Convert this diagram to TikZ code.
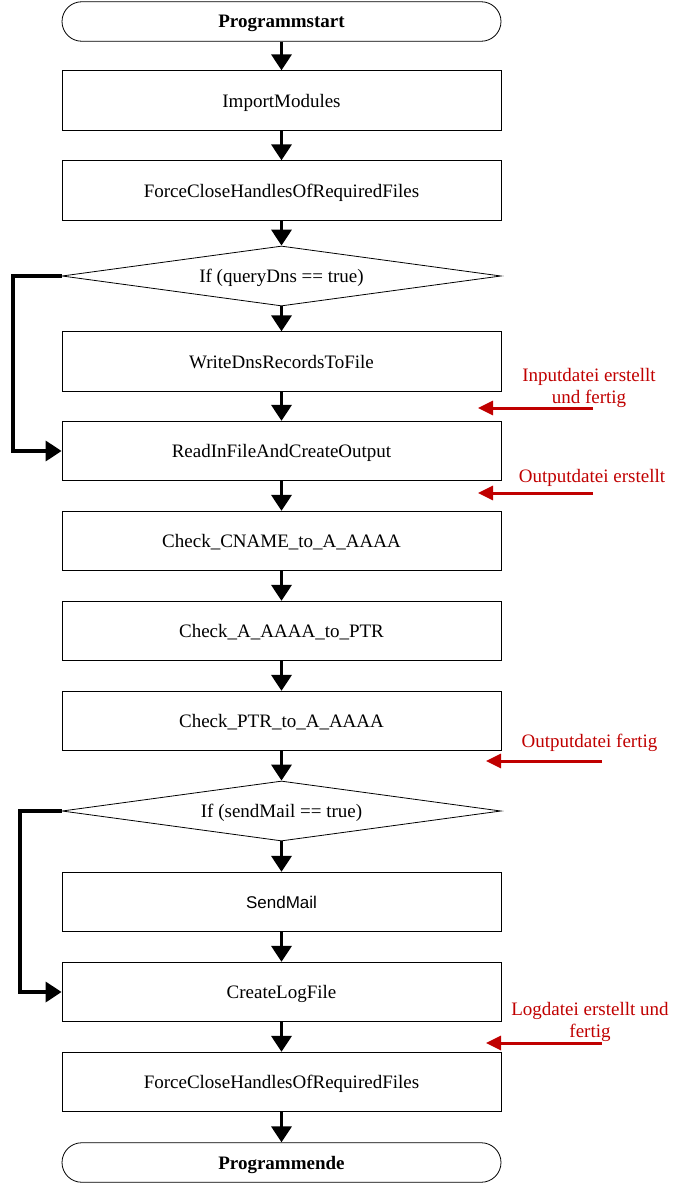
\documentclass[tikz,border=0pt]{standalone}
\usepackage{fontspec}
\setmainfont{Liberation Serif}
\newfontfamily\mailfont{Liberation Sans}
\usepackage{tikz}
\usetikzlibrary{shapes.geometric,arrows.meta}
\definecolor{notered}{RGB}{192,0,0}

\begin{document}
\begin{tikzpicture}[x=1pt,y=-1pt,
    every node/.style={font=\fontsize{19}{22}\selectfont},
    box/.style={draw,line width=0.8pt,minimum width=439pt,minimum height=59.5pt,inner sep=0pt,text depth=0pt},
    term/.style={box,minimum height=39.5pt,rounded corners=19.75pt,font=\fontsize{19}{22}\selectfont\bfseries},
    cond/.style={draw,line width=0.8pt,diamond,aspect=7.3,inner sep=0pt,text depth=0pt,minimum width=439pt,minimum height=60pt},
    flow/.style={line width=3.5pt,-{Triangle[width=20pt,length=16pt]}},
    note/.style={text=notered,align=center},
    notearrow/.style={notered,line width=3pt,-{Triangle[width=14pt,length=15pt]}}]
  \useasboundingbox (0,0) rectangle (686,1183);
  \node[term] (start) at (281.5,21.5) {Programmstart};
  \node[box] (mods) at (281.5,100.5) {ImportModules};
  \node[box] (close1) at (281.5,190.5) {ForceCloseHandlesOfRequiredFiles};
  \node[cond] (ifdns) at (281.5,276) {If (queryDns == true)};
  \node[box] (dns) at (281.5,361.5) {WriteDnsRecordsToFile};
  \node[box] (read) at (281.5,451) {ReadInFileAndCreateOutput};
  \node[box] (cname) at (281.5,541) {Check\_CNAME\_to\_A\_AAAA};
  \node[box] (aaaa) at (281.5,631) {Check\_A\_AAAA\_to\_PTR};
  \node[box] (ptr) at (281.5,721) {Check\_PTR\_to\_A\_AAAA};
  \node[cond] (ifmail) at (281.5,811) {If (sendMail == true)};
  \node[box,font={\mailfont\fontsize{17}{20}\selectfont}] (mail) at (281.5,902) {SendMail};
  \node[box] (log) at (281.5,992) {CreateLogFile};
  \node[box] (close2) at (281.5,1082) {ForceCloseHandlesOfRequiredFiles};
  \node[term] (stop) at (281.5,1162.5) {Programmende};
  \draw[flow] (start) -- (mods);
  \draw[flow] (mods) -- (close1);
  \draw[flow] (close1) -- (ifdns);
  \draw[flow] (ifdns) -- (dns);
  \draw[flow] (dns) -- (read);
  \draw[flow] (read) -- (cname);
  \draw[flow] (cname) -- (aaaa);
  \draw[flow] (aaaa) -- (ptr);
  \draw[flow] (ptr) -- (ifmail);
  \draw[flow] (ifmail) -- (mail);
  \draw[flow] (mail) -- (log);
  \draw[flow] (log) -- (close2);
  \draw[flow] (close2) -- (stop);
  \draw[flow] (ifdns.west) -- (13,276) |- (read.west);
  \draw[flow] (ifmail.west) -- (20,811) |- (log.west);
  % file status notes
  \node[note] (input) at (589,387.5) {Inputdatei erstellt\\und fertig};
  \node[note] (outnew) at (592,477.5) {Outputdatei erstellt};
  \node[note] (outdone) at (589.5,742.5) {Outputdatei fertig};
  \node[note] (logdone) at (590,1022) {Logdatei erstellt und\\fertig};
  \coordinate (in1) at (593,408);
  \coordinate (in2) at (478,408);
  \coordinate (on1) at (593,493);
  \coordinate (on2) at (478,493);
  \coordinate (od1) at (602,761);
  \coordinate (od2) at (486,761);
  \coordinate (ld1) at (602,1043);
  \coordinate (ld2) at (486,1043);
  \draw[notearrow] (in1) -- (in2);
  \draw[notearrow] (on1) -- (on2);
  \draw[notearrow] (od1) -- (od2);
  \draw[notearrow] (ld1) -- (ld2);
\end{tikzpicture}
\end{document}
